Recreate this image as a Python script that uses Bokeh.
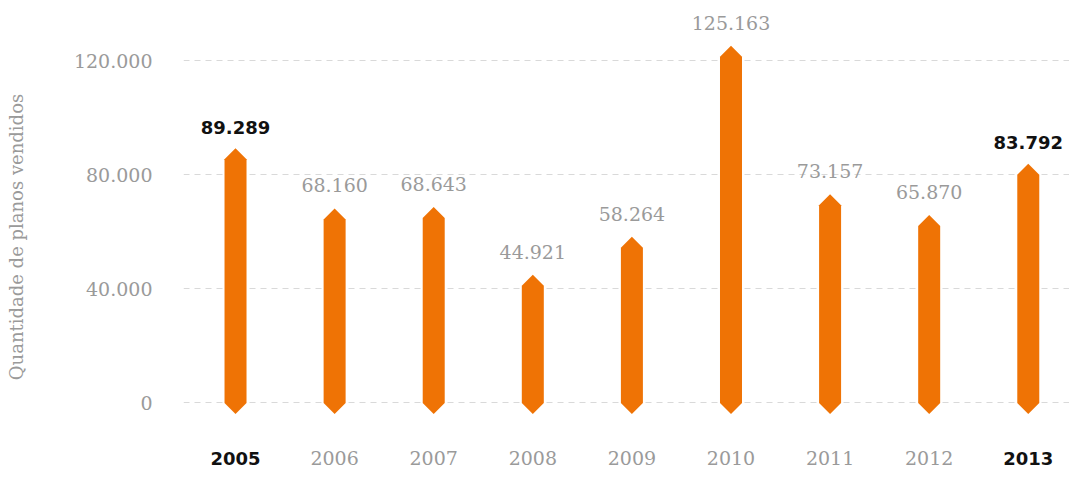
from bokeh.plotting import figure
from bokeh.models import Range1d, FixedTicker, ColumnDataSource
from bokeh.core.properties import value
from bokeh.embed import file_html
from bokeh.resources import INLINE

years = ["2005", "2006", "2007", "2008", "2009", "2010", "2011", "2012", "2013"]
sales = [89289, 68160, 68643, 44921, 58264, 125163, 73157, 65870, 83792]
value_labels = ["89.289", "68.160", "68.643", "44.921", "58.264", "125.163", "73.157", "65.870", "83.792"]
highlight = [True, False, False, False, False, False, False, False, True]
y_ticks = [0, 40000, 80000, 120000]
y_tick_labels = ["0", "40.000", "80.000", "120.000"]

ORANGE = "#EF7305"
GREY = "#9a9a9a"
DARK = "#111111"

p = figure(width=1069, height=473, output_backend="svg", toolbar_location=None,
           x_range=Range1d(-0.525, 8.416), y_range=Range1d(-24701, 141022),
           min_border_left=183, min_border_right=0, min_border_top=0, min_border_bottom=0)
p.outline_line_color = None
p.background_fill_color = "white"
p.border_fill_color = "white"
p.xaxis.visible = False
p.xgrid.grid_line_color = None

p.yaxis.ticker = FixedTicker(ticks=y_ticks)
p.yaxis.major_label_overrides = {t: l for t, l in zip(y_ticks, y_tick_labels)}
p.yaxis.axis_line_color = None
p.yaxis.major_tick_line_color = None
p.yaxis.minor_tick_line_color = None
p.yaxis.major_tick_out = 0
p.yaxis.major_tick_in = 0
p.yaxis.major_label_standoff = 31
p.yaxis.major_label_text_font = "DejaVu Serif"
p.yaxis.major_label_text_font_size = "19px"
p.yaxis.major_label_text_color = GREY
p.yaxis.axis_label = "Quantidade de planos vendidos"
p.yaxis.axis_label_text_font = "DejaVu Serif"
p.yaxis.axis_label_text_font_size = "18px"
p.yaxis.axis_label_text_font_style = "normal"
p.yaxis.axis_label_text_color = GREY
p.yaxis.axis_label_standoff = 44

p.ygrid.ticker = FixedTicker(ticks=y_ticks)
p.ygrid.grid_line_color = "#d9d9d9"
p.ygrid.grid_line_dash = "6 5"
p.ygrid.grid_line_width = 1

# bar shapes: pointed ends (tip height = half width)
hw = 0.111
tip = 3854
xs, ys = [], []
for i, v in enumerate(sales):
    xs.append([i - hw, i - hw, i, i + hw, i + hw, i])
    ys.append([0, v - tip, v, v - tip, 0, -tip])
p.patches(xs, ys, fill_color=ORANGE, line_color=None)

xi = list(range(len(years)))
norm = [i for i in xi if not highlight[i]]
bold = [i for i in xi if highlight[i]]

src_n = ColumnDataSource(dict(x=norm, y=[sales[i] for i in norm], t=[value_labels[i] for i in norm]))
src_b = ColumnDataSource(dict(x=bold, y=[sales[i] for i in bold], t=[value_labels[i] for i in bold]))
p.text(x="x", y="y", text="t", source=src_n, text_align="center", text_baseline="middle",
       y_offset=-23, text_font=value("DejaVu Serif"), text_font_size="19px", text_color=GREY)
p.text(x="x", y="y", text="t", source=src_b, text_align="center", text_baseline="middle",
       y_offset=-21, text_font=value("DejaVu Sans"), text_font_style="bold",
       text_font_size="18px", text_color=DARK)

# year labels below the bars
ylab = -19445
src_yn = ColumnDataSource(dict(x=norm, y=[ylab] * len(norm), t=[years[i] for i in norm]))
src_yb = ColumnDataSource(dict(x=bold, y=[ylab] * len(bold), t=[years[i] for i in bold]))
p.text(x="x", y="y", text="t", source=src_yn, text_align="center", text_baseline="middle",
       text_font=value("DejaVu Serif"), text_font_size="19px", text_color=GREY)
p.text(x="x", y="y", text="t", source=src_yb, text_align="center", text_baseline="middle",
       text_font=value("DejaVu Sans"), text_font_style="bold", text_font_size="18px",
       text_color=DARK)

open("out.html", "w").write(file_html(p, INLINE))
